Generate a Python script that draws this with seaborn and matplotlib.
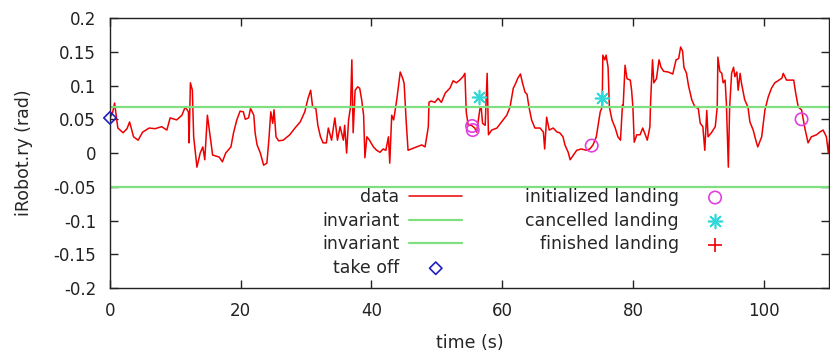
import matplotlib
matplotlib.use("Agg")
import matplotlib.pyplot as plt
from matplotlib.ticker import FuncFormatter
import seaborn as sns
import numpy as np
import pandas as pd

# trace (time in s, ry in rad)
time_s = [0.0, 0.4, 0.7, 1.2, 2.0, 2.6, 3.0, 3.6, 4.3, 5.0, 6.0, 6.9, 7.9, 8.7, 9.2, 10.2,
          11.0, 11.5, 12.0, 12.1, 12.3, 12.6, 12.8, 13.3, 13.8, 14.2, 14.5, 14.9, 15.4, 15.7,
          16.7, 17.2, 17.7, 18.5, 18.9, 19.4, 19.9, 20.4, 20.7, 21.2, 21.5, 22.0, 22.2, 22.5,
          23.0, 23.5, 24.0, 24.3, 24.6, 24.9, 25.1, 25.4, 25.8, 26.5, 27.5, 28.3, 29.1, 29.8,
          30.3, 30.7, 31.0, 31.5, 31.8, 32.2, 32.6, 33.1, 33.4, 33.9, 34.4, 34.8, 35.2, 35.7,
          35.9, 36.2, 36.5, 36.8, 37.0, 37.2, 37.5, 37.9, 38.2, 38.5, 38.8, 39.0, 39.3, 39.7,
          40.3, 40.8, 41.3, 41.8, 42.2, 42.6, 42.8, 43.1, 43.4, 43.9, 44.4, 44.8, 45.0, 45.3,
          45.6, 46.1, 46.9, 47.7, 48.2, 48.7, 48.8, 49.1, 49.7, 50.2, 50.7, 51.3, 52.0, 52.5,
          53.0, 53.5, 54.0, 54.3, 54.5, 54.8, 55.3, 55.8, 56.1, 56.6, 56.8, 57.0, 57.4, 57.7,
          57.9, 58.4, 59.2, 59.9, 60.7, 61.2, 61.5, 61.7, 62.1, 62.4, 62.8, 63.1, 63.5, 63.8,
          64.1, 64.5, 65.0, 65.8, 66.3, 66.5, 66.8, 67.2, 67.8, 68.4, 68.8, 69.3, 69.6, 70.1,
          70.4, 70.9, 71.4, 72.1, 72.9, 73.4, 73.9, 74.4, 75.0, 75.3, 75.4, 75.7, 75.9, 76.2,
          76.4, 76.8, 77.3, 77.7, 78.1, 78.4, 78.5, 78.8, 79.1, 79.6, 79.8, 80.0, 80.2, 80.6,
          81.1, 81.5, 81.9, 82.2, 82.6, 82.7, 83.0, 83.2, 83.6, 84.0, 84.3, 84.7, 85.4, 86.1,
          86.6, 87.0, 87.3, 87.6, 87.8, 88.2, 88.5, 89.0, 89.5, 90.0, 90.3, 90.7, 91.0, 91.3,
          91.5, 92.0, 92.6, 92.9, 93.0, 93.3, 93.6, 93.8, 94.1, 94.3, 94.6, 94.8, 95.1, 95.4,
          95.6, 95.9, 96.1, 96.4, 96.6, 97.1, 97.6, 97.9, 98.4, 98.8, 99.1, 99.7, 100.2, 100.7,
          101.2, 101.7, 102.2, 102.8, 103.0, 103.5, 104.0, 104.6, 104.9, 105.3, 105.8, 106.3,
          106.8, 107.3, 108.1, 108.6, 109.1, 109.6, 109.9, 110.1]
ry = [0.052, 0.060, 0.074, 0.037, 0.030, 0.036, 0.046, 0.024, 0.019, 0.031, 0.037, 0.036,
      0.039, 0.034, 0.052, 0.049, 0.056, 0.068, 0.061, 0.015, 0.104, 0.093, 0.024, -0.021,
      0.000, 0.009, -0.010, 0.056, 0.019, -0.003, -0.006, -0.013, 0.000, 0.009, 0.030, 0.049,
      0.062, 0.061, 0.050, 0.052, 0.066, 0.056, 0.030, 0.012, 0.000, -0.018, -0.015, 0.019,
      0.061, 0.044, 0.064, 0.024, 0.018, 0.019, 0.027, 0.037, 0.046, 0.061, 0.081, 0.093,
      0.068, 0.066, 0.041, 0.024, 0.015, 0.015, 0.037, 0.019, 0.052, 0.019, 0.039, 0.019,
      0.041, 0.000, 0.049, 0.068, 0.138, 0.030, 0.093, 0.098, 0.096, 0.079, 0.056, -0.007,
      0.024, 0.019, 0.009, 0.004, 0.001, 0.006, 0.004, 0.024, -0.015, 0.056, 0.049, 0.081,
      0.120, 0.110, 0.103, 0.049, 0.004, 0.006, 0.009, 0.012, 0.009, 0.039, 0.075, 0.077,
      0.075, 0.081, 0.075, 0.089, 0.096, 0.107, 0.104, 0.108, 0.113, 0.118, 0.061, 0.041,
      0.041, 0.037, 0.031, 0.066, 0.066, 0.044, 0.041, 0.118, 0.027, 0.034, 0.037, 0.046,
      0.056, 0.068, 0.085, 0.096, 0.104, 0.111, 0.117, 0.104, 0.090, 0.087, 0.068, 0.049,
      0.037, 0.037, 0.031, 0.006, 0.053, 0.034, 0.037, 0.031, 0.030, 0.024, 0.012, 0.001,
      -0.010, -0.003, 0.004, 0.006, 0.004, 0.006, 0.012, 0.024, 0.061, 0.068, 0.145, 0.138,
      0.145, 0.127, 0.068, 0.049, 0.037, 0.024, 0.019, 0.071, 0.068, 0.130, 0.110, 0.108,
      0.093, 0.068, 0.016, 0.027, 0.027, 0.037, 0.027, 0.019, 0.039, 0.074, 0.138, 0.104,
      0.110, 0.138, 0.127, 0.121, 0.120, 0.117, 0.138, 0.140, 0.157, 0.151, 0.127, 0.118,
      0.100, 0.079, 0.068, 0.066, 0.044, 0.039, 0.004, 0.063, 0.024, 0.030, 0.039, 0.068,
      0.142, 0.121, 0.118, 0.104, 0.108, 0.074, -0.021, 0.068, 0.118, 0.127, 0.113, 0.120,
      0.093, 0.118, 0.104, 0.079, 0.068, 0.046, 0.034, 0.019, 0.009, 0.024, 0.064, 0.083,
      0.096, 0.104, 0.107, 0.111, 0.118, 0.108, 0.108, 0.108, 0.089, 0.068, 0.064, 0.037,
      0.015, 0.024, 0.027, 0.031, 0.034, 0.024, 0.000, 0.020]

invariant_hi = 0.068
invariant_lo = -0.05

takeoff_t = [0.0]
takeoff_y = [0.052]
init_t = [55.4, 55.5, 73.7, 105.8]
init_y = [0.040, 0.034, 0.011, 0.050]
cancel_t = [56.5, 75.2]
cancel_y = [0.083, 0.082]
finish_t = []
finish_y = []

sns.set_style("ticks")
plt.rcParams["font.family"] = ["DejaVu Sans"]
plt.rcParams["axes.unicode_minus"] = False

fig = plt.figure(figsize=(8.3, 3.56), dpi=100)
ax = fig.add_axes([110 / 830, 68 / 356, 719 / 830, 270 / 356])

df = pd.DataFrame({"t": time_s, "ry": ry})
sns.lineplot(data=df, x="t", y="ry", sort=False, estimator=None, color="#ee0000",
             lw=1.1, ax=ax, label="data")
ax.axhline(invariant_hi, color="#80e080", lw=1.6, label="invariant")
ax.axhline(invariant_lo, color="#80e080", lw=1.6, label="invariant")
sns.scatterplot(x=takeoff_t, y=takeoff_y, marker="D", s=40, facecolors="none",
                edgecolor="#2020c0", linewidth=1.2, ax=ax, label="take off",
                zorder=5, clip_on=False)
sns.scatterplot(x=init_t, y=init_y, marker="o", s=80, facecolors="none",
                edgecolor="#e040e0", linewidth=1.2, ax=ax, label="initialized landing",
                zorder=5)
ax.scatter(cancel_t, cancel_y, marker=(8, 2, 0), s=100, color="#30d8d8",
           linewidth=1.2, label="cancelled landing", zorder=5)
ax.scatter(finish_t, finish_y, marker="+", s=90, color="#ee0000",
           linewidth=1.2, label="finished landing", zorder=5)

ax.set_xlim(0, 110)
ax.set_ylim(-0.2, 0.2)
ax.set_xticks([0, 20, 40, 60, 80, 100])
ax.set_yticks(np.arange(-0.2, 0.2001, 0.05))
ax.yaxis.set_major_formatter(FuncFormatter(lambda v, p: "%g" % (round(v, 3) + 0.0)))
ax.tick_params(direction="in", top=True, right=True, length=6, width=1,
               labelsize=12, pad=10, colors="#222222")
for s in ax.spines.values():
    s.set_color("#222222")
    s.set_linewidth(1.0)
ax.set_xlabel("time (s)", fontsize=12.5, labelpad=10)
ax.set_ylabel("iRobot.ry (rad)", fontsize=12.5, labelpad=15)

h, l = ax.get_legend_handles_labels()
ax.legend(h, l, ncol=2, markerfirst=False, frameon=False, loc="upper left",
          bbox_to_anchor=(0.295, 0.37), fontsize=12.5, handlelength=3.05,
          handletextpad=0.57, columnspacing=3.6, labelspacing=0.32, borderpad=0,
          borderaxespad=0)

fig.savefig("out.png", dpi=100)
